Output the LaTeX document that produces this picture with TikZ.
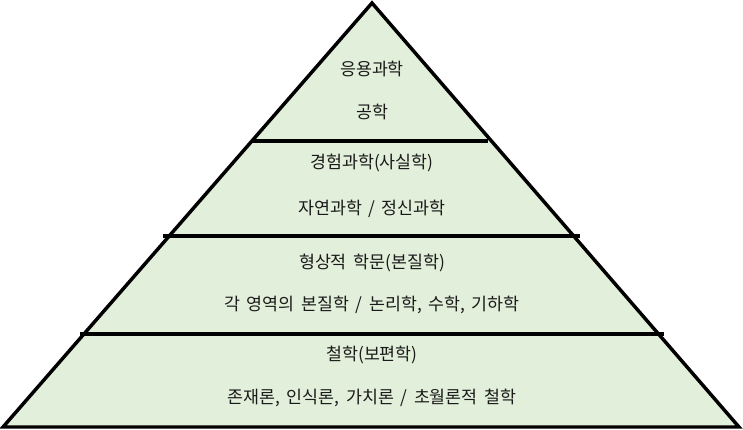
\documentclass[tikz,border=0pt]{standalone}
\usepackage{fontspec}
\newfontfamily\kofont[WordSpace=1.7]{Noto Sans CJK KR}
\definecolor{layergreen}{HTML}{E2EFDA}
\definecolor{textdark}{HTML}{1A1A1A}

\begin{document}
\begin{tikzpicture}[
    x=0.75pt, y=-0.75pt,
    every node/.style={font=\kofont\fontsize{13}{15}\selectfont, text=textdark, inner sep=0pt},
    outline/.style={line width=2.6pt, black, line join=miter},
    divider/.style={line width=2.6pt, black},
]

% === Canvas (pixel units) ===
\useasboundingbox (0,0) rectangle (743,429);

% === Pyramid corners ===
\coordinate (apex)  at (372,3);
\coordinate (baseL) at (3,427);
\coordinate (baseR) at (739,427);

% === Pyramid body ===
\fill[layergreen] (apex) -- (baseR) -- (baseL) -- cycle;
\draw[outline] (apex) -- (baseR) -- (baseL) -- cycle;

% === Layer dividers ===
\coordinate (d1L) at (252,141);  \coordinate (d1R) at (488,141);
\coordinate (d2L) at (163,236);  \coordinate (d2R) at (580,236);
\coordinate (d3L) at (80,334);   \coordinate (d3R) at (664,334);
\draw[divider] (d1L) -- (d1R);
\draw[divider] (d2L) -- (d2R);
\draw[divider] (d3L) -- (d3R);

% === Layer 1 (top) ===
\node (applied)  at (372,69)  {응용과학};
\node (engineer) at (372,112) {공학};

% === Layer 2 ===
\node (empirical) at (372,163) {경험과학(사실학)};
\node (natural)   at (372,209) {자연과학 / 정신과학};

% === Layer 3 ===
\node (formal)  at (372,263) {형상적 학문(본질학)};
\node (logic)   at (372,305) {각 영역의 본질학 / 논리학, 수학, 기하학};

% === Layer 4 (bottom) ===
\node (philo)   at (372,355) {철학(보편학)};
\node (ontology) at (372,398) {존재론, 인식론, 가치론 / 초월론적 철학};

\end{tikzpicture}
\end{document}
